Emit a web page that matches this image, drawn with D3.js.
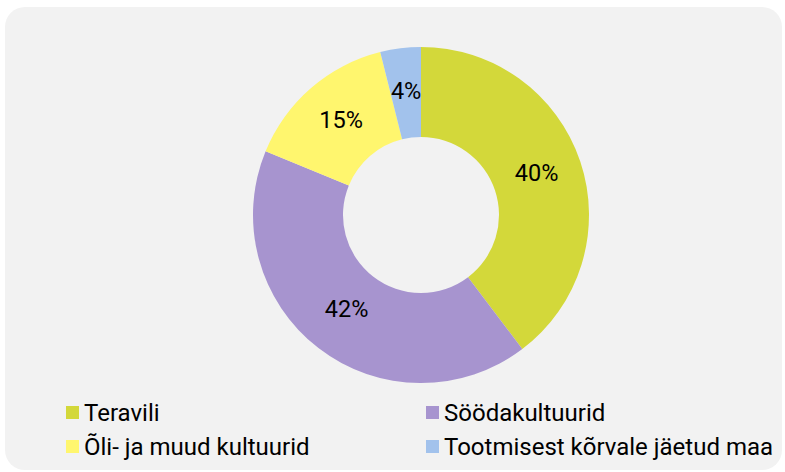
<!DOCTYPE html>
<html>
<head>
<meta charset="utf-8">
<script src="https://cdn.jsdelivr.net/npm/d3@7"></script>
<style>
  body { margin: 0; background: #fff; }
  text { font-family: Roboto, "Noto Sans", sans-serif; }
</style>
</head>
<body>
<script>
// chart data
const categories = ["Teravili", "Söödakultuurid", "Õli- ja muud kultuurid", "Tootmisest kõrvale jäetud maa"];
const shares = [39.7, 41.5, 14.9, 3.9];
const colors = ["#d3d83a", "#a794cf", "#fff66e", "#a2c2ec"];

const width = 785, height = 472;

const svg = d3.select("body").append("svg")
    .attr("width", width)
    .attr("height", height);

// panel background
svg.append("rect")
    .attr("x", 5)
    .attr("y", 7)
    .attr("width", 777)
    .attr("height", 463)
    .attr("rx", 20)
    .attr("fill", "#f2f2f2");

const cx = 421, cy = 215;
const outerR = 168, innerR = 78;

const pie = d3.pie().sort(null).value(d => d.value);
const arc = d3.arc().innerRadius(innerR).outerRadius(outerR);
const labelArc = d3.arc().innerRadius(122).outerRadius(122);

const rows = categories.map((c, i) => ({name: c, value: shares[i], color: colors[i]}));

let g = svg.append("g").attr("transform", `translate(${cx},${cy})`);

g.selectAll("path")
  .data(pie(rows))
  .enter()
  .append("path")
    .attr("d", arc)
    .attr("fill", d => d.data.color);

g.selectAll("text.lbl")
  .data(pie(rows))
  .enter()
  .append("text")
    .attr("class", "lbl")
    .attr("transform", d => `translate(${labelArc.centroid(d)})`)
    .attr("text-anchor", "middle")
    .attr("dy", "0.22em")
    .attr("font-size", 23.5)
    .attr("fill", "#000")
    .text(d => Math.round(d.data.value) + "%");

// LEGEND (two columns, two rows)
const legX = d3.scalePoint().domain([0, 1]).range([66, 426]);
const legY = d3.scalePoint().domain([0, 1]).range([406, 440]);

let legend = svg.append("g").attr("id", "legend");
let item = legend.selectAll("g")
  .data(rows)
  .enter()
  .append("g")
    .attr("transform", (d, i) => `translate(${legX(i % 2)},${legY(Math.floor(i / 2))})`);

item.append("rect")
    .attr("width", 13)
    .attr("height", 13)
    .attr("fill", d => d.color);

item.append("text")
    .attr("x", 18)
    .attr("y", 6.5)
    .attr("dy", "0.35em")
    .attr("font-size", 24)
    .attr("fill", "#000")
    .text(d => d.name);
</script>
</body>
</html>
